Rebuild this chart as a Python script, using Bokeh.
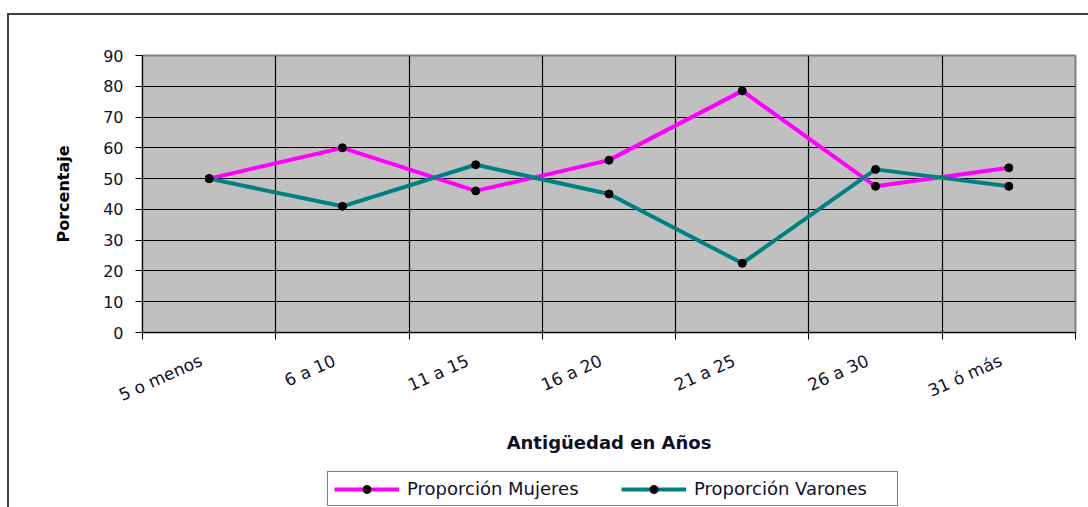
from bokeh.plotting import figure
from bokeh.layouts import column
from bokeh.models import FixedTicker, Legend, LegendItem, Range1d, ColumnDataSource
from bokeh.embed import file_html
from bokeh.resources import INLINE
import numpy as np

categories = ["5 o menos", "6 a 10", "11 a 15", "16 a 20", "21 a 25", "26 a 30", "31 ó más"]
mujeres = [50, 60, 46, 56, 78.5, 47.5, 53.5]
varones = [50, 41, 54.5, 45, 22.5, 53, 47.5]
y_ticks = [0, 10, 20, 30, 40, 50, 60, 70, 80, 90]
series_labels = ["Proporción Mujeres", "Proporción Varones"]
series_colors = ["#FF00FF", "#008080"]

FONT = "DejaVu Sans"
TXT = "#101028"
n = len(categories)
xpos = list(np.arange(n) + 0.5)
label_pos = [x - 0.06 for x in xpos]
src = ColumnDataSource(dict(x=xpos, m=mujeres, v=varones))

# ---------- main chart ----------
p = figure(width=1088, height=466, output_backend="svg", toolbar_location=None,
           x_range=Range1d(0, n), y_range=Range1d(0, 90),
           min_border_left=142, min_border_right=13, min_border_top=55, min_border_bottom=134)
p.styles = {
    "background-color": "white",
    "background-image": "linear-gradient(#404040,#404040), linear-gradient(#404040,#404040)",
    "background-size": "2px 500px, 1100px 2px",
    "background-position": "7px 13px, 7px 13px",
    "background-repeat": "no-repeat",
}
p.border_fill_alpha = 0
p.background_fill_color = "#C0C0C0"
p.outline_line_color = "#808080"
p.outline_line_width = 2

xa = p.xaxis[0]
xa.ticker = FixedTicker(ticks=label_pos, minor_ticks=list(range(n + 1)))
xa.major_label_overrides = {float(x): c for x, c in zip(label_pos, categories)}
xa.major_tick_line_color = None
xa.minor_tick_line_color = "black"
xa.minor_tick_out = 7
xa.minor_tick_in = 0
xa.axis_line_color = "black"
xa.major_label_orientation = 0.42
xa.major_label_standoff = 20
xa.major_label_text_font = FONT
xa.major_label_text_font_size = "17px"
xa.major_label_text_color = TXT
xa.axis_label = "Antigüedad en Años"
xa.axis_label_text_font = FONT
xa.axis_label_text_font_size = "18px"
xa.axis_label_text_font_style = "bold"
xa.axis_label_text_color = TXT
xa.axis_label_standoff = 15

ya = p.yaxis[0]
ya.ticker = FixedTicker(ticks=y_ticks)
ya.major_tick_out = 7
ya.major_tick_in = 0
ya.major_tick_line_color = "black"
ya.minor_tick_line_color = None
ya.axis_line_color = "black"
ya.major_label_standoff = 12
ya.major_label_text_font = FONT
ya.major_label_text_font_size = "16px"
ya.major_label_text_color = TXT
ya.axis_label = "Porcentaje"
ya.axis_label_text_font = FONT
ya.axis_label_text_font_size = "16px"
ya.axis_label_text_font_style = "bold"
ya.axis_label_text_color = "black"
ya.axis_label_standoff = 27

p.xgrid.ticker = FixedTicker(ticks=list(range(1, n)))
p.xgrid.grid_line_color = "black"
p.xgrid.grid_line_width = 1.2
p.ygrid.grid_line_color = "black"
p.ygrid.grid_line_width = 1.2

p.line("x", "m", source=src, line_color=series_colors[0], line_width=4)
p.scatter("x", "m", source=src, marker="circle", size=8, fill_color="black", line_color="black")
p.line("x", "v", source=src, line_color=series_colors[1], line_width=4)
p.scatter("x", "v", source=src, marker="circle", size=8, fill_color="black", line_color="black")

# ---------- legend strip (its frame is aligned with the main frame by the column) ----------
q = figure(width=1088, height=41, output_backend="svg", toolbar_location=None,
           x_range=Range1d(0, 1), y_range=Range1d(-200, -100),
           x_axis_location=None, y_axis_location=None, min_border=0)
q.styles = {
    "background-color": "white",
    "background-image": "linear-gradient(#404040,#404040)",
    "background-size": "2px 60px",
    "background-position": "7px 0px",
    "background-repeat": "no-repeat",
}
q.border_fill_alpha = 0
q.background_fill_alpha = 0
q.outline_line_color = None
q.grid.visible = False

items = []
for lab, col, vals in zip(series_labels, series_colors, [mujeres, varones]):
    # same series data; lies outside this strip's ranges, so only the legend glyph shows
    rl = q.line(xpos, vals, line_color=col, line_width=4)
    rs = q.scatter(xpos, vals, marker="circle", size=8, fill_color="black", line_color="black")
    items.append(LegendItem(label=lab, renderers=[rl, rs]))

legend = Legend(items=items, orientation="horizontal", location=(185, 1),
                border_line_color="black", border_line_width=1,
                glyph_width=65, glyph_height=20, label_standoff=8, spacing=17,
                padding=6, label_width=197, margin=0,
                label_text_font=FONT, label_text_font_size="18px", label_text_color=TXT,
                background_fill_color="white", background_fill_alpha=1)
q.add_layout(legend)

layout = column(p, q, spacing=0)
open("out.html", "w").write(file_html(layout, INLINE))
